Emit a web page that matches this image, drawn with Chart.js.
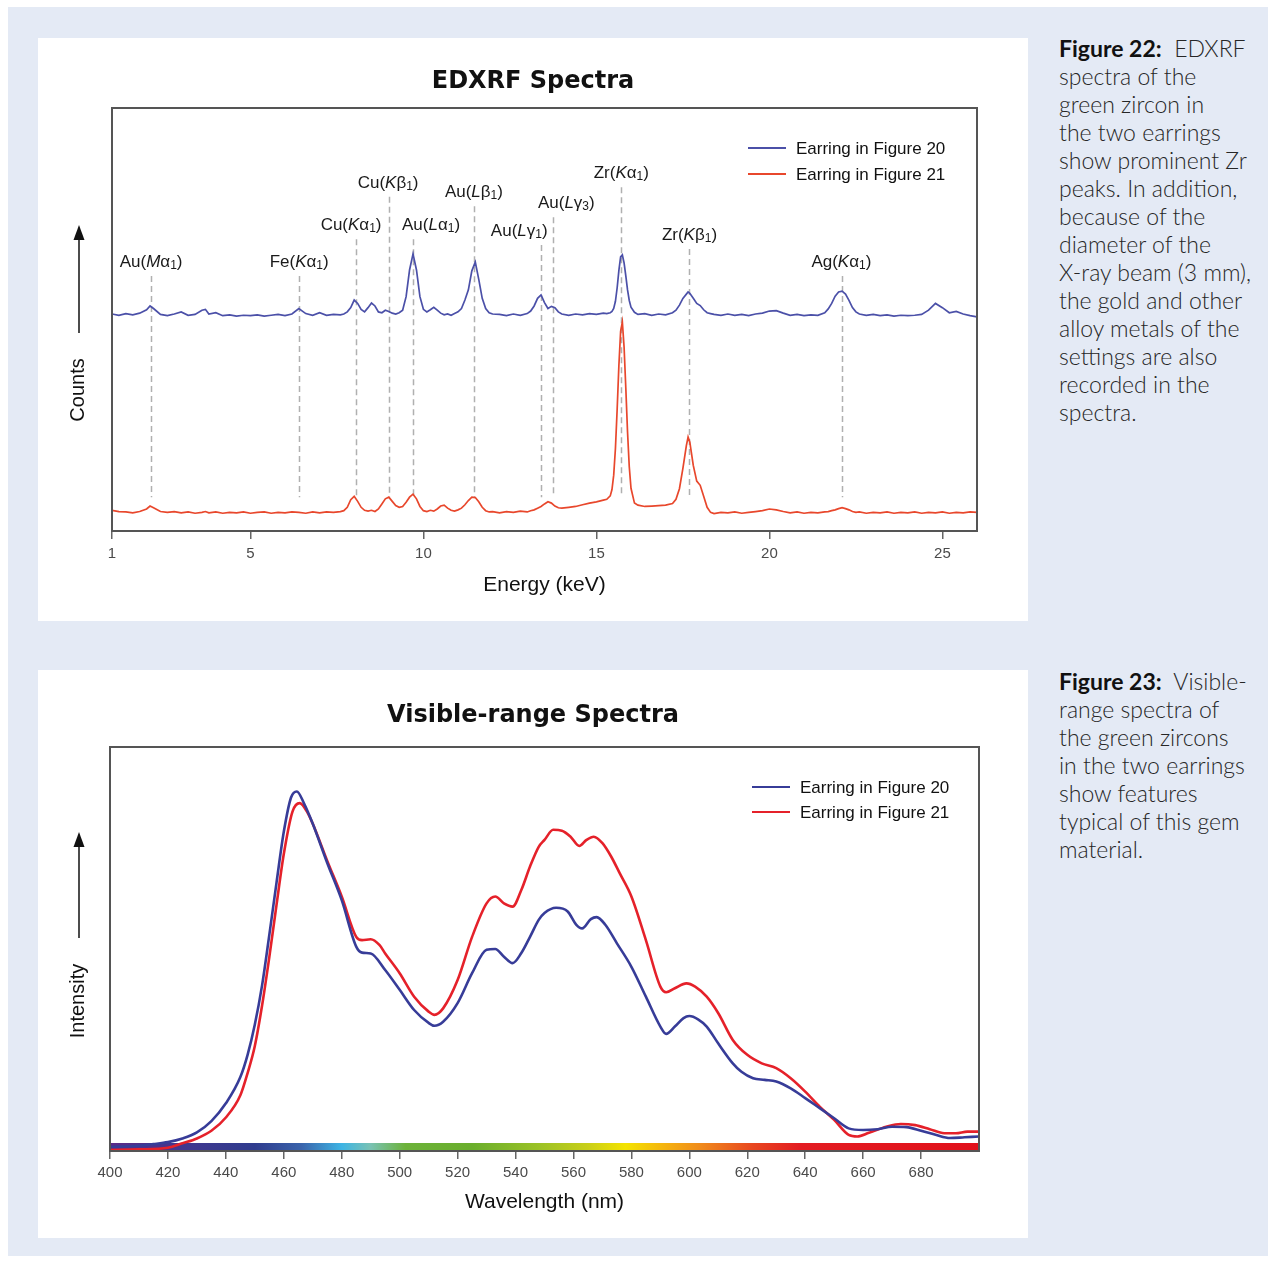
<!DOCTYPE html>
<html>
<head>
<meta charset="utf-8">
<script src="https://cdn.jsdelivr.net/npm/chart.js@4.4.1/dist/chart.umd.min.js"></script>
<style>
html,body{margin:0;padding:0;background:#fff;}
body{width:1275px;height:1261px;position:relative;overflow:hidden;font-family:'Liberation Sans',Arial,sans-serif;}
.bg{position:absolute;left:8px;top:7px;width:1260px;height:1249px;background:#e4eaf5;}
.panel{position:absolute;left:38px;width:990px;background:#fff;}
#p1{top:38px;height:583px;}
#p2{top:670px;height:568px;}
.cap{position:absolute;left:1059px;width:214px;font-family:Lato,'Open Sans',sans-serif;font-weight:300;font-size:23px;line-height:28px;color:#262626;white-space:nowrap;}
.cap b{font-weight:700;color:#111;}
#cap1{top:34px;}
#cap2{top:667px;}
</style>
</head>
<body>
<div class="bg"></div>
<div class="panel" id="p1"><canvas id="edxrf"></canvas></div>
<div class="panel" id="p2"><canvas id="visible"></canvas></div>
<div class="cap" id="cap1"><b>Figure 22:</b>&nbsp; EDXRF<br>spectra of the<br>green zircon in<br>the two earrings<br>show prominent Zr<br>peaks. In addition,<br>because of the<br>diameter of the<br>X-ray beam (3 mm),<br>the gold and other<br>alloy metals of the<br>settings are also<br>recorded in the<br>spectra.</div>
<div class="cap" id="cap2"><b>Figure 23:</b>&nbsp; Visible-<br>range spectra of<br>the green zircons<br>in the two earrings<br>show features<br>typical of this gem<br>material.</div>
<script>
// EDXRF spectra (counts in arbitrary units)
const energyKeV=[1.0,1.2,1.4,1.6,1.8,2.0,2.1,2.2,2.4,2.6,2.8,3.0,3.2,3.4,3.6,3.7,3.8,4.0,4.2,4.4,4.6,4.8,5.0,5.2,5.4,5.6,5.8,6.0,6.2,6.4,6.6,6.8,7.0,7.2,7.4,7.6,
  7.7,7.8,7.9,8.0,8.1,8.2,8.3,8.4,8.5,8.6,8.7,8.8,8.9,9.0,9.1,9.2,9.3,9.4,9.5,9.6,9.7,9.8,9.9,10.0,10.1,10.2,10.3,10.4,10.5,10.6,10.7,10.8,10.9,11.0,11.1,11.2,11.3,11.4,11.5,11.6,11.7,11.8,11.9,12.0,
  12.2,12.4,12.6,12.8,13.0,13.1,13.2,13.3,13.4,13.5,13.6,13.7,13.8,13.9,14.0,14.2,14.4,14.6,14.8,15.0,15.2,
  15.3,15.4,15.45,15.5,15.55,15.6,15.65,15.7,15.75,15.8,15.85,15.9,15.95,16.0,16.1,16.2,
  16.4,16.6,16.8,17.0,17.2,17.3,17.4,17.5,17.6,17.65,17.7,17.8,17.9,18.0,18.1,18.2,18.3,18.4,18.6,
  18.8,19.0,19.2,19.4,19.6,19.8,20.0,20.2,20.4,20.6,20.8,21.0,21.2,21.4,21.6,21.7,21.8,21.9,22.0,22.1,22.2,22.3,22.4,22.5,22.6,22.8,23.0,23.2,23.4,23.6,23.8,24.0,24.2,24.4,24.6,24.8,25.0,25.2,25.4,25.6,25.8,26.0];
const countsFig20=[51.3,51.0,51.4,51.1,51.5,52.3,53.2,52.6,51.2,50.9,51.3,51.8,51.0,51.2,52.2,52.4,51.3,51.6,50.9,51.1,50.8,51.0,50.9,51.1,50.8,51.0,51.2,50.9,51.3,52.6,51.4,51.0,51.6,51.0,51.2,51.1,
  51.3,51.8,52.8,54.6,53.8,52.4,51.8,52.8,53.9,53.2,51.8,51.6,52.2,51.9,51.5,51.3,51.6,52.2,55.4,61.7,65.5,61.7,55.4,52.4,51.8,52.3,52.9,52.2,51.5,51.1,51.3,51.0,51.4,51.8,52.6,54.6,57.0,61.5,63.6,59.5,55.0,52.6,51.6,51.3,
  51.2,50.9,51.3,51.0,51.4,52.0,53.2,55.0,55.8,54.0,52.6,53.1,52.8,51.8,51.3,51.0,51.3,51.1,51.4,51.2,51.5,
  51.4,51.6,51.9,52.6,54.3,57.5,61.6,64.8,65.3,63.4,60.3,57.0,54.5,52.9,51.7,51.2,
  51.4,51.0,51.3,51.1,51.6,52.2,53.4,55.0,56.0,56.5,56.2,55.0,53.8,53.3,52.3,51.6,51.4,51.2,51.0,
  51.3,51.0,51.2,50.9,51.3,51.5,52.0,52.1,51.5,51.0,51.2,50.9,51.1,51.0,51.6,52.5,53.8,55.5,56.5,56.7,56.0,54.5,52.8,51.8,51.3,51.0,51.2,50.9,51.1,50.8,51.0,50.9,51.0,51.2,52.2,53.8,52.8,51.6,51.9,51.3,50.9,50.6];
const countsFig21=[4.9,4.6,4.5,4.3,4.6,5.2,5.9,5.5,4.6,4.4,4.6,4.3,4.5,4.2,4.4,4.6,4.3,4.5,4.2,4.4,4.3,4.5,4.2,4.4,4.5,4.2,4.4,4.3,4.5,4.4,4.2,4.5,4.3,4.5,4.4,4.6,
  4.8,5.6,7.4,8.2,7.0,5.6,4.9,4.7,4.9,4.6,5.2,6.4,7.6,8.0,7.0,6.0,5.6,5.8,6.8,8.0,8.7,7.6,5.8,4.8,4.6,4.9,4.7,5.2,5.9,6.1,5.4,4.9,4.7,5.0,5.4,6.2,7.2,8.0,7.9,6.9,5.6,4.8,4.5,4.6,
  4.3,4.6,4.4,4.7,4.5,4.8,5.0,5.4,5.8,6.4,6.9,6.6,5.9,5.5,5.4,5.6,5.8,6.2,6.6,6.9,7.3,
  7.5,8.3,9.8,13.2,19.5,28.8,39.2,47.2,49.4,43.5,33.8,23.4,15.2,10.1,6.6,6.1,
  5.8,5.9,6.0,6.1,6.5,7.5,10.0,14.8,20.2,22.2,21.0,15.5,11.8,10.8,8.2,5.6,4.4,4.1,4.4,
  4.3,4.5,4.2,4.4,4.6,4.8,5.2,5.0,4.6,4.3,4.5,4.2,4.4,4.3,4.5,4.6,4.8,5.0,5.3,5.5,5.3,5.0,4.6,4.4,4.5,4.2,4.4,4.3,4.5,4.2,4.4,4.3,4.5,4.2,4.4,4.3,4.5,4.2,4.4,4.3,4.5,4.4];
const energyTicks=[1,5,10,15,20,25];

// peak annotations
const peakElement=['Au','Fe','Cu','Cu','Au','Au','Au','Au','Zr','Zr','Ag'];
const peakShell=['M','K','K','K','L','L','L','L','K','K','K'];
const peakGreek=['α','α','α','β','α','β','γ','γ','α','β','α'];
const peakIndex=['1','1','1','1','1','1','1','3','1','1','1'];
const peakLineKeV=[2.13,6.41,8.05,9.0,9.71,11.45,13.39,13.75,15.72,17.67,22.1];
const peakLabelKeV=[2.13,6.41,7.91,8.98,10.22,11.46,12.77,14.13,15.72,17.69,22.08];
const peakLabelLevel=[63.6,63.6,72.3,82.3,72.3,80.1,70.9,77.5,84.6,70.0,63.6];

// visible-range spectra
const blueWavelength=[400,410,415,420,425,430,435,440,445,447.5,450,452.5,455,457.5,460,462.5,464.5,467,470,475,480,485,487,490,495,500,505,510,512,515,520,525,530,533,536,539,542,545,548,550,554,558,561,563,566,568,571,575,580,585,590,592,595,598,600,603,606,610,615,618,622,626,630,635,640,645,650,655,660,665,670,675,680,685,690,695,700];
const blueIntensity=[1.0,1.3,1.7,2.2,3.1,4.6,7.4,11.8,18.3,23.8,31.3,41,53.5,66.5,79,87.5,89,86,81,71.3,62.1,50.6,49.1,48.9,44.8,39.9,34.9,31.7,31,32,36.6,44,49.8,50,48.1,46.5,49,53,57.2,58.9,60.2,59.3,56,55.1,57.4,57.9,56,51.4,45.6,38.2,30.8,29,30.8,32.9,33.4,32.6,30.8,26.6,21.7,19.6,18,17.6,17.2,15.5,13.1,10.6,8.1,5.6,5.2,5.4,6,5.9,5,4,3.2,3.4,3.6];
const redWavelength=[400,410,420,425,430,435,440,445,447.5,450,452.5,455,457.5,460,463,465.5,468,470,475,480,485,487,490,493,495,500,505,510,512,515,520,525,530,533,536,539,542,545,548,550,553,556,559,562,564.5,567,570,573,576,580,585,590,592,595,599,602,606,610,615,620,625,630,635,640,645,650,655,658,662,668,673,678,683,688,692,696,700];
const redIntensity=[0.3,0.4,0.8,1.9,3.1,5.0,8.3,13.8,19.3,26,36,48,61,73.5,84,86.1,84,81,71.8,63,53,52.2,52.4,51,48.9,44,38.2,34.5,33.7,35.3,42.3,53,61.3,63,61.3,60.5,64.6,70.4,75.3,77,79.5,79.3,77.8,75.5,77,77.8,76.2,72.9,68.7,63,52.2,40.7,39.3,40.3,41.5,40.7,38.2,34.1,27.5,23.8,21.7,20.5,18,14.7,11,7.7,4,3.6,4.5,6,6.7,6.4,5.4,4.4,4.4,4.8,4.8];
const wavelengthTicks=[400,420,440,460,480,500,520,540,560,580,600,620,640,660,680];

const FONT="'Liberation Sans', Arial, sans-serif";
const zip=(xs,ys)=>xs.map((x,i)=>({x:x,y:ys[i]}));

// frame, title, y label with arrow, legend
const framePlugin={
  id:'frame',
  afterDraw(chart,args,o){
    const ctx=chart.ctx, a=chart.chartArea;
    ctx.save();
    ctx.strokeStyle='#555';ctx.lineWidth=2;
    ctx.strokeRect(a.left,a.top,a.right-a.left,a.bottom-a.top);
    ctx.fillStyle='#111';ctx.textAlign='center';ctx.textBaseline='middle';
    ctx.font="bold 24px 'DejaVu Sans', Verdana, sans-serif";
    ctx.fillText(o.title,chart.width/2,o.titleY);
    // y label + arrow
    ctx.save();
    ctx.translate(o.axisX-1,o.labelY);ctx.rotate(-Math.PI/2);
    ctx.font='20px '+FONT;ctx.fillText(o.yLabel,0,0);
    ctx.restore();
    ctx.strokeStyle='#111';ctx.lineWidth=1.5;
    ctx.beginPath();ctx.moveTo(o.axisX,o.arrowBottom);ctx.lineTo(o.axisX,o.arrowTip+12);ctx.stroke();
    ctx.beginPath();ctx.moveTo(o.axisX,o.arrowTip);ctx.lineTo(o.axisX-5.5,o.arrowTip+15);ctx.lineTo(o.axisX+5.5,o.arrowTip+15);ctx.closePath();ctx.fill();
    // legend
    ctx.font='17px '+FONT;ctx.textAlign='left';
    chart.data.datasets.forEach((d,i)=>{
      const y=a.top+o.legendTop+i*o.legendGap;
      ctx.strokeStyle=d.borderColor;ctx.lineWidth=2.2;
      ctx.beginPath();ctx.moveTo(a.right-o.legendRight,y);ctx.lineTo(a.right-o.legendRight+38,y);ctx.stroke();
      ctx.fillStyle='#111';ctx.fillText(d.label,a.right-o.legendRight+48,y+1);
    });
    ctx.restore();
  }
};

// dashed peak markers and element labels
const peakPlugin={
  id:'peaks',
  beforeDatasetsDraw(chart){
    const ctx=chart.ctx, x=chart.scales.x, y=chart.scales.y;
    ctx.save();
    ctx.strokeStyle='#b0b0b0';ctx.lineWidth=1.5;ctx.setLineDash([6,4]);
    peakLineKeV.forEach((e,i)=>{
      const px=Math.round(x.getPixelForValue(e))+0.5;
      ctx.beginPath();ctx.moveTo(px,y.getPixelForValue(peakLabelLevel[i])+14);ctx.lineTo(px,y.getPixelForValue(8));ctx.stroke();
    });
    ctx.setLineDash([]);
    ctx.fillStyle='#1a1a1a';ctx.textBaseline='middle';ctx.textAlign='left';
    peakElement.forEach((el,i)=>{
      const parts=[
        {t:el+'(',f:'17px '+FONT,dy:0},
        {t:peakShell[i],f:'italic 17px '+FONT,dy:0},
        {t:peakGreek[i],f:'17px '+FONT,dy:0},
        {t:peakIndex[i],f:'12px '+FONT,dy:4},
        {t:')',f:'17px '+FONT,dy:0}
      ];
      let w=0;
      parts.forEach(p=>{ctx.font=p.f;p.w=ctx.measureText(p.t).width;w+=p.w;});
      let px=x.getPixelForValue(peakLabelKeV[i])-w/2;
      const py=y.getPixelForValue(peakLabelLevel[i]);
      parts.forEach(p=>{ctx.font=p.f;ctx.fillText(p.t,px,py+p.dy);px+=p.w;});
    });
    ctx.restore();
  }
};

// colour band under the visible spectrum
const rainbowPlugin={
  id:'rainbow',
  beforeDatasetsDraw(chart){
    const ctx=chart.ctx, a=chart.chartArea, x=chart.scales.x;
    const stops=[[400,'#5a2a88'],[425,'#41378f'],[450,'#2f3c8e'],[466,'#3a63ab'],[480,'#3db4e4'],[490,'#79c2b3'],[502,'#6cb23a'],[525,'#6aae2c'],[548,'#9bc226'],[565,'#c9cf18'],[578,'#f4e300'],[592,'#f5b10f'],[604,'#f08a1b'],[622,'#e8461f'],[638,'#e31c22'],[700,'#e1101a']];
    const g=ctx.createLinearGradient(a.left,0,a.right,0);
    stops.forEach(s=>g.addColorStop((x.getPixelForValue(s[0])-a.left)/(a.right-a.left),s[1]));
    ctx.save();ctx.fillStyle=g;ctx.fillRect(a.left,a.bottom-8,a.right-a.left,8);ctx.restore();
  }
};

function xAxis(min,max,tickList,title,height,tickPad){
  return {
    type:'linear',min:min,max:max,
    afterBuildTicks:s=>{s.ticks=tickList.map(v=>({value:v}));},
    afterFit:s=>{s.height=height;},
    grid:{display:true,drawOnChartArea:false,drawTicks:true,tickLength:8,color:'#666',lineWidth:1.5},
    border:{display:false},
    ticks:{color:'#4a4a4a',font:{family:FONT,size:15},padding:tickPad,maxRotation:0,autoSkip:false},
    title:{display:true,text:title,color:'#111',font:{family:FONT,size:21},padding:{top:0,bottom:23}}
  };
}
function yAxis(width){
  return {min:0,max:100,afterFit:s=>{s.width=width;},ticks:{display:false},grid:{display:false},border:{display:false}};
}

Chart.defaults.font.family=FONT;

new Chart(document.getElementById('edxrf'),{
  type:'line',
  data:{datasets:[
    {label:'Earring in Figure 20',data:zip(energyKeV,countsFig20),borderColor:'#4b50a8',borderWidth:1.7,pointRadius:0,tension:0},
    {label:'Earring in Figure 21',data:zip(energyKeV,countsFig21),borderColor:'#e8472c',borderWidth:1.7,pointRadius:0,tension:0}
  ]},
  options:{
    responsive:true,maintainAspectRatio:false,animation:false,
    layout:{padding:{top:70,right:51,left:0,bottom:0}},
    plugins:{legend:{display:false},tooltip:{enabled:false},
      frame:{title:'EDXRF Spectra',titleY:44,yLabel:'Counts',axisX:41,labelY:352,arrowTip:187,arrowBottom:295,legendTop:40,legendGap:26,legendRight:229}},
    scales:{x:xAxis(1,26,energyTicks,'Energy (keV)',90,6),y:yAxis(74)}
  },
  plugins:[peakPlugin,framePlugin]
});

new Chart(document.getElementById('visible'),{
  type:'line',
  data:{datasets:[
    {label:'Earring in Figure 20',data:zip(blueWavelength,blueIntensity),borderColor:'#373c98',borderWidth:2.6,pointRadius:0,cubicInterpolationMode:'monotone'},
    {label:'Earring in Figure 21',data:zip(redWavelength,redIntensity),borderColor:'#e5212a',borderWidth:2.6,pointRadius:0,cubicInterpolationMode:'monotone'}
  ]},
  options:{
    responsive:true,maintainAspectRatio:false,animation:false,
    layout:{padding:{top:77,right:49,left:0,bottom:0}},
    plugins:{legend:{display:false},tooltip:{enabled:false},
      frame:{title:'Visible-range Spectra',titleY:46,yLabel:'Intensity',axisX:41,labelY:331,arrowTip:162,arrowBottom:268,legendTop:40,legendGap:25,legendRight:227}},
    scales:{x:xAxis(400,700,wavelengthTicks,'Wavelength (nm)',87,5),y:yAxis(72)}
  },
  plugins:[rainbowPlugin,framePlugin]
});
</script>
</body>
</html>
